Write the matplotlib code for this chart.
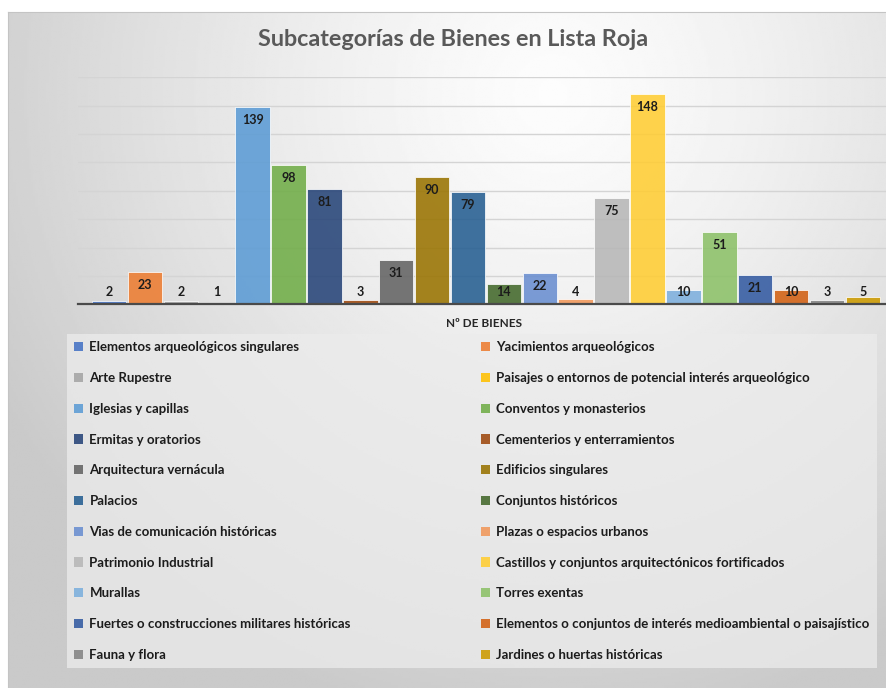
"""Subcategorías de Bienes en Lista Roja - bar chart"""

import numpy as np
import matplotlib
matplotlib.use("Agg")
import matplotlib.pyplot as plt
from matplotlib.patches import Patch

CATEGORIES = [
    "Elementos arqueológicos singulares",
    "Yacimientos arqueológicos",
    "Arte Rupestre",
    "Paisajes o entornos de potencial interés arqueológico",
    "Iglesias y capillas",
    "Conventos y monasterios",
    "Ermitas y oratorios",
    "Cementerios y enterramientos",
    "Arquitectura vernácula",
    "Edificios singulares",
    "Palacios",
    "Conjuntos históricos",
    "Vias de comunicación históricas",
    "Plazas o espacios urbanos",
    "Patrimonio Industrial",
    "Castillos y conjuntos arquitectónicos fortificados",
    "Murallas",
    "Torres exentas",
    "Fuertes o construcciones militares históricas",
    "Elementos o conjuntos de interés medioambiental o paisajístico",
    "Fauna y flora",
    "Jardines o huertas históricas",
]
VALUES = [2, 23, 2, 1, 139, 98, 81, 3, 31, 90, 79, 14, 22, 4, 75, 148, 10, 51, 21, 10, 3, 5]
COLORS = [
    "#4472C4", "#ED7D31", "#A5A5A5", "#FFC000", "#5B9BD5", "#70AD47",
    "#264478", "#9E480E", "#636363", "#997300", "#255E91", "#43682B",
    "#698ED0", "#F1975A", "#B7B7B7", "#FFCD33", "#7CAFDD", "#8CC168",
    "#335AA1", "#D26012", "#848484", "#CC9A00",
]
TITLE = "Subcategorías de Bienes en Lista Roja"
AXIS_LABEL = "Nº DE BIENES"

FONT = "Lato"
W, H = 887, 688


def px(x0, y0, x1, y1):
    """pixel box (top-left origin) -> figure fraction rect"""
    return [x0 / W, 1 - y1 / H, (x1 - x0) / W, (y1 - y0) / H]


def main():
    plt.rcParams["font.family"] = [FONT, "DejaVu Sans"]
    fig = plt.figure(figsize=(W / 100, H / 100), dpi=100)
    fig.patch.set_facecolor("white")

    # chart area background: soft radial gradient
    bg = fig.add_axes(px(8, 12, W, H), zorder=0)
    yy, xx = np.mgrid[0:1:300j, 0:1:400j]
    r = np.sqrt(((xx - 0.62) / 0.72) ** 2 + ((yy - 0.12) / 0.95) ** 2)
    shade = 0.99 - 0.2 * np.clip(r, 0, 1) ** 1.3
    bg.imshow(shade, cmap="gray", vmin=0, vmax=1, aspect="auto", extent=(0, 1, 1, 0))
    bg.set_xticks([])
    bg.set_yticks([])
    for side in ("right", "bottom"):
        bg.spines[side].set_visible(False)
    for side in ("top", "left"):
        bg.spines[side].set_color("#c4c4c4")
        bg.spines[side].set_linewidth(0.8)

    ax = fig.add_axes(px(78, 77.3, W, 304.3), zorder=2)
    ax.patch.set_alpha(0)
    x = np.arange(len(VALUES))
    ax.bar(x, VALUES, width=0.96, color=COLORS, alpha=0.88, zorder=3,
           edgecolor=(1, 1, 1, 0.35), linewidth=0.6)
    ax.set_xlim(-0.862, 21.67)
    ax.set_ylim(0, 160)
    ax.set_yticks(range(0, 161, 20))
    ax.set_xticks([])
    ax.tick_params(left=False, labelleft=False)
    ax.yaxis.grid(True, color="#d4d4d4", linewidth=1.0, zorder=0)
    for side in ("top", "left", "right"):
        ax.spines[side].set_visible(False)
    ax.spines["bottom"].set_color("#4a4a4a")
    ax.spines["bottom"].set_linewidth(1.6)
    ax.spines["bottom"].set_zorder(4)

    for xi, v in zip(x, VALUES):
        ax.text(xi, max(v - 9.2, 8.5), str(v), ha="center", va="center",
                fontsize=9, fontweight="bold", color="#1c1c1c", zorder=5)

    fig.text(453 / W, 1 - 40 / H, TITLE, ha="center", va="center",
             fontsize=16.8, fontweight="bold", color="#595959")
    fig.text(484 / W, 1 - 323 / H, AXIS_LABEL, ha="center", va="center",
             fontsize=8.5, fontweight="bold", color="#262626")

    handles = [Patch(facecolor=c, alpha=0.88, label=n) for c, n in zip(COLORS, CATEGORIES)]
    # legend reads row by row, matplotlib fills column by column
    order = list(range(0, 22, 2)) + list(range(1, 22, 2))
    leg = fig.legend([handles[i] for i in order], [CATEGORIES[i] for i in order],
                     ncol=2, mode="expand", loc="lower left",
                     bbox_to_anchor=px(67, 331, 877, 668),
                     prop={"weight": "bold", "size": 9.5},
                     handlelength=0.7, handleheight=0.7, handletextpad=0.45,
                     labelspacing=1.42, borderpad=0.55, borderaxespad=0,
                     fancybox=False, frameon=True)
    leg.get_frame().set_facecolor("#ececec")
    leg.get_frame().set_alpha(0.75)
    leg.get_frame().set_edgecolor("none")
    for t in leg.get_texts():
        t.set_color("#1c1c1c")

    fig.savefig("out.png", dpi=100)


if __name__ == "__main__":
    main()
